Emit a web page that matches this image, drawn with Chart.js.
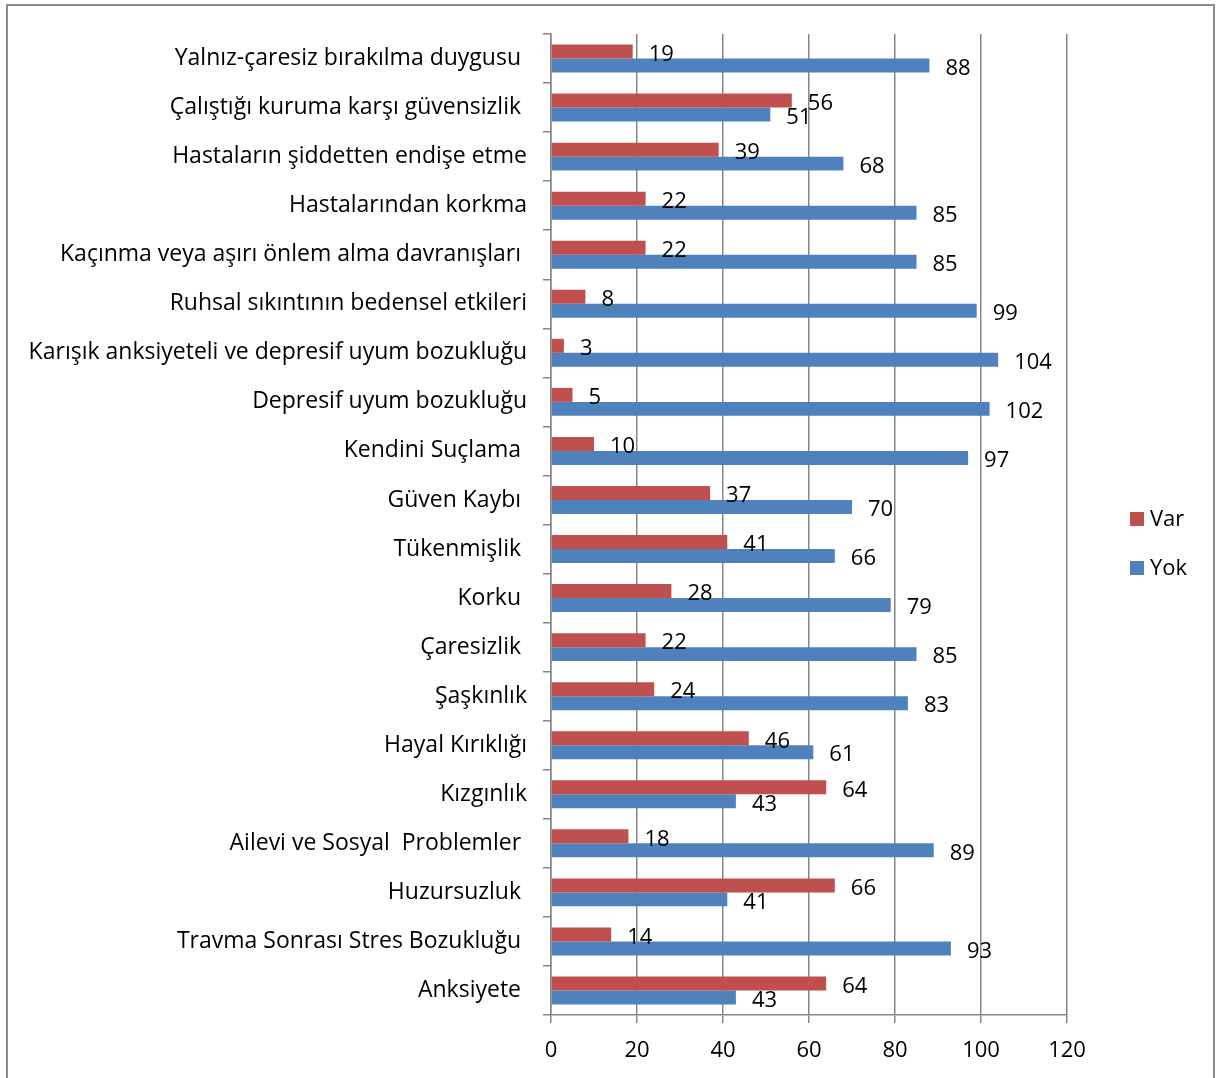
<!DOCTYPE html>
<html>
<head>
<meta charset="utf-8">
<script src="https://cdn.jsdelivr.net/npm/chart.js@4.4.0/dist/chart.umd.min.js"></script>
<style>
  html, body { margin: 0; padding: 0; background: #fff; overflow: hidden; }
  #frame { position: absolute; left: 6px; top: 4px; width: 1209px; height: 1100px; border: 2px solid #8a8a8a; box-sizing: border-box; }
  #barChart { position: absolute; left: 0; top: 0; }
</style>
</head>
<body>
<div id="frame"></div>
<canvas id="barChart" width="1217" height="1078"></canvas>
<script>
// categories, top to bottom as in the picture
const categories = [
  'Yalnız-çaresiz bırakılma duygusu ',
  'Çalıştığı kuruma karşı güvensizlik ',
  'Hastaların şiddetten endişe etme',
  'Hastalarından korkma',
  'Kaçınma veya aşırı önlem alma davranışları ',
  'Ruhsal sıkıntının bedensel etkileri',
  'Karışık anksiyeteli ve depresif uyum bozukluğu',
  'Depresif uyum bozukluğu',
  'Kendini Suçlama ',
  'Güven Kaybı ',
  'Tükenmişlik ',
  'Korku ',
  'Çaresizlik ',
  'Şaşkınlık',
  'Hayal Kırıklığı',
  'Kızgınlık',
  'Ailevi ve Sosyal  Problemler ',
  'Huzursuzluk ',
  'Travma Sonrası Stres Bozukluğu ',
  'Anksiyete '
];
const varValues = [19, 56, 39, 22, 22, 8, 3, 5, 10, 37, 41, 28, 22, 24, 46, 64, 18, 66, 14, 64];
const yokValues = [88, 51, 68, 85, 85, 99, 104, 102, 97, 70, 66, 79, 85, 83, 61, 43, 89, 41, 93, 43];
const xTicks = [0, 20, 40, 60, 80, 100, 120];

const FONT = '"Open Sans"';
const FS = 23;     // category labels
const NS = 22;     // numbers, legend
const GRID = '#868686';

// value labels after each bar end
const valueLabels = {
  id: 'valueLabels',
  afterDatasetsDraw(chart) {
    const ctx = chart.ctx;
    ctx.save();
    ctx.font = NS + 'px ' + FONT;
    ctx.fillStyle = '#000';
    ctx.textAlign = 'left';
    ctx.textBaseline = 'middle';
    chart.data.datasets.forEach((ds, i) => {
      chart.getDatasetMeta(i).data.forEach((bar, j) => {
        ctx.fillText(String(ds.data[j]), bar.x + 16, bar.y + 3);
      });
    });
    ctx.restore();
  }
};

// legend drawn to the right of the plot
const sideLegend = {
  id: 'sideLegend',
  afterDraw(chart) {
    const ctx = chart.ctx;
    const x = chart.chartArea.right + 63;
    let y = 519;
    ctx.save();
    ctx.font = NS + 'px ' + FONT;
    ctx.textBaseline = 'middle';
    ctx.textAlign = 'left';
    chart.data.datasets.forEach(ds => {
      ctx.fillStyle = ds.backgroundColor;
      ctx.fillRect(x, y - 7, 14, 14);
      ctx.fillStyle = '#000';
      ctx.fillText(ds.label, x + 20, y + 1);
      y += 49;
    });
    ctx.restore();
  }
};

new Chart(document.getElementById('barChart'), {
  type: 'bar',
  data: {
    labels: categories,
    datasets: [
      { label: 'Var', data: varValues, backgroundColor: '#C0504D' },
      { label: 'Yok', data: yokValues, backgroundColor: '#4F81BD' }
    ]
  },
  options: {
    indexAxis: 'y',
    responsive: false,
    animation: false,
    layout: { padding: { top: 34, right: 150, left: 0, bottom: 0 } },
    datasets: { bar: { categoryPercentage: 0.57, barPercentage: 1.0 } },
    plugins: {
      legend: { display: false },
      tooltip: { enabled: false }
    },
    scales: {
      x: {
        min: 0,
        max: 120,
        afterBuildTicks: scale => { scale.ticks = xTicks.map(v => ({ value: v })); },
        afterFit: scale => { scale.height = 63; },
        grid: { color: GRID, lineWidth: 1.5, tickLength: 8 },
        border: { color: GRID, width: 1.5 },
        ticks: { color: '#000', font: { family: FONT, size: NS }, padding: 15 }
      },
      y: {
        afterFit: scale => { scale.width = 551; },
        grid: { color: GRID, lineWidth: 1.5, tickLength: 8, drawOnChartArea: false, offset: true },
        border: { color: GRID, width: 1.5 },
        ticks: { color: '#000', font: { family: FONT, size: FS }, padding: 16, autoSkip: false }
      }
    }
  },
  plugins: [valueLabels, sideLegend]
});
</script>
</body>
</html>
